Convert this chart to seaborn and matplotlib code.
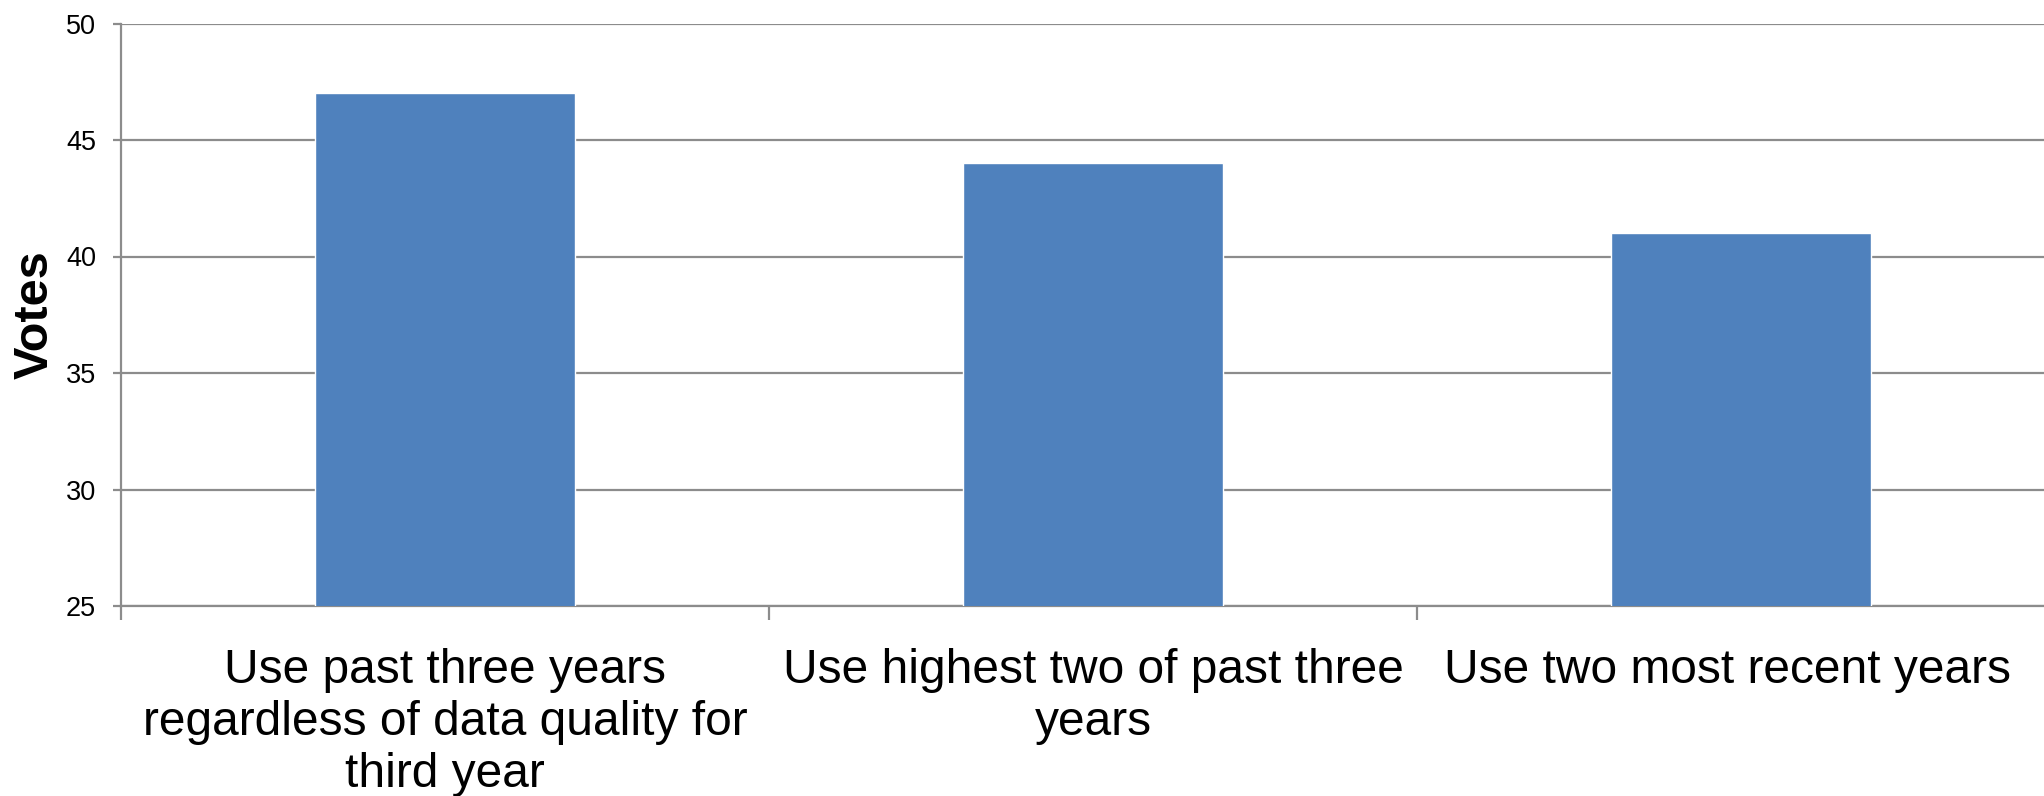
import matplotlib
matplotlib.use("Agg")
import matplotlib.pyplot as plt
import matplotlib.transforms as mtransforms
import seaborn as sns
from matplotlib.ticker import FixedLocator, NullFormatter

categories = [
    "Use past three years\nregardless of data quality for\nthird year",
    "Use highest two of past three\nyears",
    "Use two most recent years",
]
votes = [47, 44, 41]
y_ticks = [25, 30, 35, 40, 45, 50]

sns.set_theme(style="white")
plt.rcParams["font.family"] = ["Liberation Sans", "DejaVu Sans"]

W, H = 2044, 796
fig = plt.figure(figsize=(W / 100, H / 100), dpi=100)
left, right_px, top, bottom = 121, 2065, 23.5, 606
ax = fig.add_axes([left / W, (H - bottom) / H, (right_px - left) / W, (bottom - top) / H])

sns.barplot(x=categories, y=votes, color="#4F81BD", width=0.4, saturation=1, ax=ax, zorder=3)

grid_c = "#8c8c8c"
ax.set_ylim(25, 50)
ax.set_xlim(-0.5, 2.5)
ax.set_yticks(y_ticks)
ax.set_yticklabels([str(v) for v in y_ticks])
ax.yaxis.grid(True, color=grid_c, linewidth=1.6)
ax.xaxis.grid(False)
ax.set_axisbelow(True)

for s in ["top", "right"]:
    ax.spines[s].set_visible(False)
for s in ["left", "bottom"]:
    ax.spines[s].set_color(grid_c)
    ax.spines[s].set_linewidth(1.6)

# major ticks at category boundaries, labels on minor ticks at centres
ax.xaxis.set_major_locator(FixedLocator([-0.5, 0.5, 1.5, 2.5]))
ax.xaxis.set_major_formatter(NullFormatter())
ax.xaxis.set_minor_locator(FixedLocator([0, 1, 2]))
ax.set_xticklabels(categories, minor=True, fontsize=34.5, color="black", linespacing=1.2)
ax.tick_params(axis="x", which="major", direction="out", length=10, width=1.6,
               color=grid_c, bottom=True)
ax.tick_params(axis="x", which="minor", length=0, pad=30, bottom=True)
ax.tick_params(axis="y", direction="out", length=6, width=1.6, color=grid_c,
               labelsize=19.5, labelcolor="black", pad=12, left=True)

# last label is pulled in slightly from the cut-off right edge, as in the original
last = ax.xaxis.get_minorticklabels()[2]
last.set_transform(last.get_transform()
                   + mtransforms.ScaledTranslation(-0.13, 0, fig.dpi_scale_trans))

ax.set_xlabel("")
ax.set_ylabel("Votes", fontsize=35, fontweight="bold", color="black")
ax.yaxis.set_label_coords((58 - left) / (right_px - left), 0.5)

fig.savefig("out.png", dpi=100)
